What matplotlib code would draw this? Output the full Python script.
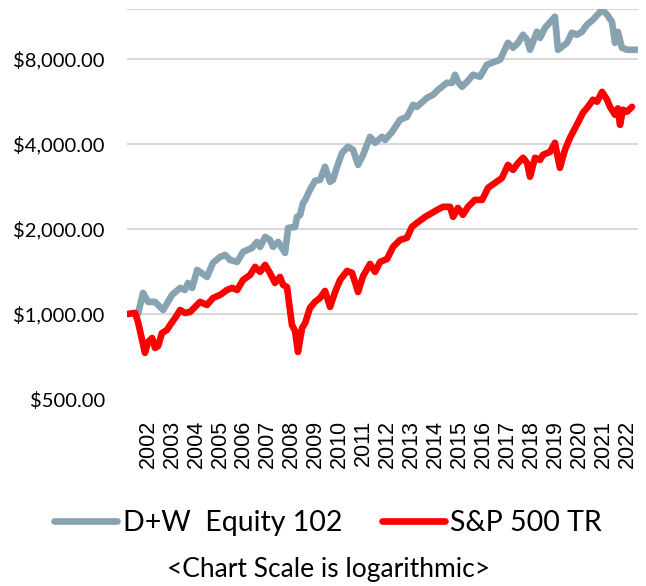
import matplotlib
matplotlib.use("Agg")
import matplotlib.pyplot as plt
from matplotlib.ticker import FixedLocator, NullLocator

# D+W Equity 102 (growth of $1,000)
dw_years = [2001.58, 2001.79, 2002.00, 2002.29, 2002.63, 2003.00, 2003.34, 2003.54,
            2003.67, 2003.84, 2004.05, 2004.46, 2004.71, 2005.01, 2005.22, 2005.42,
            2005.72, 2005.97, 2006.34, 2006.55, 2006.68, 2006.89, 2007.09, 2007.22,
            2007.43, 2007.72, 2007.85, 2008.14, 2008.22, 2008.35, 2008.47, 2008.56,
            2008.76, 2008.97, 2009.18, 2009.39, 2009.60, 2009.72, 2009.89, 2010.10,
            2010.35, 2010.56, 2010.77, 2010.98, 2011.27, 2011.48, 2011.77, 2011.90,
            2012.19, 2012.52, 2012.81, 2013.07, 2013.23, 2013.65, 2013.90, 2014.11,
            2014.48, 2014.69, 2014.82, 2014.94, 2015.11, 2015.32, 2015.57, 2015.86,
            2016.15, 2016.70, 2017.03, 2017.24, 2017.45, 2017.66, 2017.83, 2017.95,
            2018.24, 2018.37, 2018.58, 2018.99, 2019.12, 2019.50, 2019.70, 2019.91,
            2020.12, 2020.33, 2020.58, 2020.96, 2021.17, 2021.37, 2021.50, 2021.62,
            2021.79, 2022.00, 2022.42]
dw_values = [1000, 1187, 1103, 1103, 1033, 1168, 1236, 1216,
             1288, 1236, 1432, 1352, 1516, 1592, 1618, 1553,
             1528, 1658, 1713, 1799, 1727, 1874, 1828, 1727,
             1799, 1645, 2016, 2033, 2206, 2240, 2472, 2530,
             2750, 2960, 2982, 3316, 2934, 2982, 3316, 3717,
             3904, 3809, 3370, 3657, 4235, 4033, 4235, 4133,
             4411, 4864, 4985, 5498, 5408, 5820, 5964, 6212,
             6578, 6578, 7020, 6630, 6370, 6630, 7020, 6910,
             7620, 7940, 9110, 8750, 9110, 9730, 9340, 8610,
             9970, 9490, 10300, 11270, 8610, 9110, 9890, 9730,
             9970, 10560, 11000, 11930, 11450, 10820, 9110, 9970,
             8750, 8610, 8610]

# S&P 500 TR (growth of $1,000)
sp_years = [2001.16, 2001.46, 2001.58, 2001.75, 2001.87, 2002.00, 2002.17, 2002.29,
            2002.42, 2002.58, 2002.79, 2002.92, 2003.13, 2003.34, 2003.54, 2003.75,
            2004.17, 2004.46, 2004.71, 2005.01, 2005.30, 2005.51, 2005.72, 2005.97,
            2006.26, 2006.47, 2006.68, 2006.89, 2007.09, 2007.30, 2007.51, 2007.64,
            2007.80, 2008.01, 2008.14, 2008.26, 2008.43, 2008.56, 2008.76, 2008.97,
            2009.18, 2009.39, 2009.60, 2009.81, 2010.02, 2010.31, 2010.52, 2010.77,
            2010.98, 2011.27, 2011.48, 2011.69, 2011.98, 2012.23, 2012.52, 2012.81,
            2013.02, 2013.23, 2013.57, 2013.86, 2014.07, 2014.32, 2014.61, 2014.74,
            2014.94, 2015.15, 2015.36, 2015.65, 2015.95, 2016.20, 2016.49, 2016.78,
            2017.03, 2017.24, 2017.45, 2017.66, 2017.83, 2017.95, 2018.16, 2018.37,
            2018.49, 2018.79, 2018.99, 2019.20, 2019.41, 2019.62, 2019.95, 2020.16,
            2020.37, 2020.58, 2020.75, 2020.96, 2021.17, 2021.29, 2021.50, 2021.62,
            2021.71, 2021.83, 2022.00, 2022.21]
sp_values = [1000, 1008, 937, 809, 728, 796, 822, 758,
             770, 856, 878, 914, 968, 1033, 1008, 1016,
             1103, 1076, 1139, 1168, 1216, 1236, 1216, 1320,
             1374, 1467, 1409, 1491, 1397, 1288, 1352, 1267,
             1246, 914, 870, 734, 892, 929, 1050, 1103,
             1139, 1206, 1059, 1196, 1320, 1420, 1397, 1196,
             1363, 1503, 1409, 1528, 1565, 1727, 1828, 1859,
             2033, 2100, 2206, 2279, 2334, 2394, 2394, 2206,
             2373, 2244, 2394, 2533, 2533, 2795, 2910, 3030,
             3370, 3235, 3420, 3570, 3420, 3060, 3570, 3510,
             3657, 3747, 4033, 3290, 3809, 4200, 4750, 5150,
             5408, 5730, 5640, 6110, 5730, 5408, 5070, 5340,
             4670, 5280, 5200, 5408]

year_labels = list(range(2002, 2023))
y_ticks = [500, 1000, 2000, 4000, 8000]
y_labels = ["$500.00", "$1,000.00", "$2,000.00", "$4,000.00", "$8,000.00"]
y_max = 12000

fig = plt.figure(figsize=(6.46, 5.86), dpi=100)
ax = fig.add_axes([0.1966, 0.3191, 0.791, 0.6655])

ax.plot(dw_years, dw_values, color="#87A3B1", lw=4.8, solid_capstyle="round",
        solid_joinstyle="round", label="D+W  Equity 102")
ax.plot(sp_years, sp_values, color="#FF0000", lw=4.8, solid_capstyle="round",
        solid_joinstyle="round", label="S&P 500 TR")

ax.set_yscale("log")
ax.set_ylim(500, y_max)
ax.set_xlim(2001.12, 2022.46)
ax.yaxis.set_major_locator(FixedLocator(y_ticks))
ax.yaxis.set_minor_locator(NullLocator())
ax.set_yticklabels(y_labels, fontfamily="Lato", fontsize=14.5)
ax.set_xticks(year_labels)
ax.set_xticklabels([str(y) for y in year_labels], rotation=90,
                   fontfamily="Liberation Sans", fontsize=15.5)
ax.tick_params(axis="y", length=0, pad=16)
ax.tick_params(axis="x", length=0, pad=15)

ax.grid(axis="y", color="#D9D9D9", lw=1.5)
ax.get_ygridlines()[0].set_visible(False)
ax.axhline(y_max, color="#D9D9D9", lw=1.5, zorder=0.5)
ax.set_axisbelow(True)
for s in ax.spines.values():
    s.set_visible(False)

fig.legend(loc="center", bbox_to_anchor=(0.508, 0.1075), ncol=2, frameon=False,
           prop={"family": "Lato", "size": 20.5}, handlelength=2.2,
           handletextpad=0.2, columnspacing=1.4)
fig.text(0.508, 1 - 570 / 586, "<Chart Scale is logarithmic>", ha="center",
         va="center", fontfamily="Lato", fontsize=19)

fig.savefig("out.png", dpi=100)
